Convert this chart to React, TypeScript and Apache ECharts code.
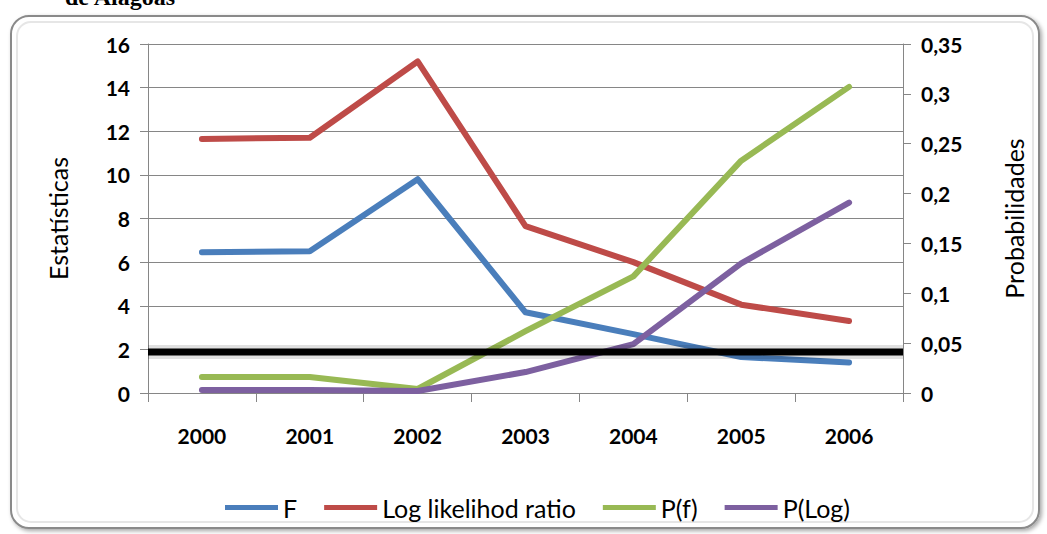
import React, { useEffect, useRef } from "react";
import * as echarts from "echarts";

const years = ["2000", "2001", "2002", "2003", "2004", "2005", "2006"];
const fValues = [6.45, 6.5, 9.8, 3.7, 2.7, 1.65, 1.4];
const logLikelihood = [11.65, 11.7, 15.2, 7.65, 6.0, 4.05, 3.3];
const pF = [0.016, 0.016, 0.004, 0.062, 0.117, 0.233, 0.307];
const pLog = [0.003, 0.003, 0.002, 0.021, 0.049, 0.13, 0.191];
const thresholdLine = 1.88;
const thresholdSpan = [0, 1];
const leftTicks = { min: 0, max: 16, interval: 2 };
const rightTicks = { min: 0, max: 0.35, interval: 0.05 };

const FONT = "Lato, 'Liberation Sans', sans-serif";

export default function App() {
  const ref = useRef<HTMLDivElement>(null);
  useEffect(() => {
    if (!ref.current) return;
    const chart = echarts.init(ref.current, null, { renderer: "svg" });
    const lineSeries = (name: string, data: number[], color: string, yAxisIndex: number) => ({
      name,
      type: "line",
      data,
      yAxisIndex,
      symbol: "none",
      showSymbol: false,
      lineStyle: { color, width: 6, cap: "round", join: "round" },
      itemStyle: { color },
      z: 3,
    });
    const thresholdData = thresholdSpan.map((x) => [x, thresholdLine]);
    chart.setOption({
      animation: false,
      backgroundColor: "#ffffff",
      textStyle: { fontFamily: FONT },
      grid: { left: 148, right: 144, top: 44, bottom: 141, containLabel: false },
      graphic: [
        {
          type: "rect",
          shape: { x: 11, y: 16, width: 1028, height: 512, r: 18 },
          style: {
            fill: "#ffffff",
            stroke: "#8a8a8a",
            lineWidth: 2,
            shadowBlur: 4,
            shadowOffsetX: 2,
            shadowOffsetY: 2,
            shadowColor: "rgba(0,0,0,0.35)",
          },
          z: -10,
        },
        {
          type: "rect",
          shape: { x: 17, y: 22, width: 1016, height: 500, r: 14 },
          style: { fill: "none", stroke: "#e6e6e6", lineWidth: 2 },
          z: -9,
        },
        {
          type: "text",
          x: 65,
          y: 9,
          style: {
            text: "de Alagoas",
            fontFamily: "'Liberation Serif', 'DejaVu Serif', serif",
            fontWeight: "bold",
            fontSize: 24,
            fill: "#000",
            verticalAlign: "bottom",
          },
        },
      ],
      legend: {
        top: 490,
        left: 220,
        itemWidth: 53,
        itemHeight: 5,
        itemGap: 27,
        icon: "rect",
        textStyle: { fontFamily: FONT, fontSize: 25, color: "#000" },
        data: ["F", "Log likelihod ratio", "P(f)", "P(Log)"],
      },
      xAxis: [
        {
          type: "category",
          data: years,
          boundaryGap: true,
          axisLine: { lineStyle: { color: "#868686", width: 1 } },
          axisTick: { show: true, length: 9, lineStyle: { color: "#868686" } },
          axisLabel: { fontFamily: FONT, fontSize: 21, fontWeight: "bold", color: "#000", margin: 32 },
        },
        {
          type: "value",
          min: thresholdSpan[0],
          max: thresholdSpan[1],
          show: false,
        },
      ],
      yAxis: [
        {
          type: "value",
          ...leftTicks,
          name: "Estatísticas",
          nameLocation: "middle",
          nameGap: 78,
          nameTextStyle: { fontFamily: FONT, fontSize: 25, color: "#000" },
          axisLine: { show: true, lineStyle: { color: "#868686" } },
          axisTick: { show: true, length: 8, lineStyle: { color: "#868686" } },
          splitLine: { show: true, lineStyle: { color: "#868686", width: 1 } },
          axisLabel: { fontFamily: FONT, fontSize: 21, fontWeight: "bold", color: "#000", margin: 18 },
        },
        {
          type: "value",
          ...rightTicks,
          position: "right",
          name: "Probabilidades",
          nameLocation: "middle",
          nameGap: 98,
          nameRotate: 90,
          nameTextStyle: { fontFamily: FONT, fontSize: 25, color: "#000" },
          axisLine: { show: true, lineStyle: { color: "#868686" } },
          axisTick: { show: true, length: 8, lineStyle: { color: "#868686" } },
          splitLine: { show: false },
          axisLabel: {
            fontFamily: FONT,
            fontSize: 21,
            fontWeight: "bold",
            color: "#000",
            margin: 18,
            formatter: (v: number) => String(Math.round(v * 100) / 100).replace(".", ","),
          },
        },
      ],
      series: [
        lineSeries("F", fValues, "#4a7ebb", 0),
        lineSeries("Log likelihod ratio", logLikelihood, "#be4b48", 0),
        lineSeries("P(f)", pF, "#98b954", 1),
        lineSeries("P(Log)", pLog, "#7d60a0", 1),
        {
          name: "threshold-shadow",
          type: "line",
          xAxisIndex: 1,
          yAxisIndex: 0,
          data: thresholdData,
          z: 9,
          symbol: "none",
          showSymbol: false,
          silent: true,
          lineStyle: { color: "rgba(0,0,0,0.12)", width: 14, cap: "butt" },
        },
        {
          name: "threshold",
          type: "line",
          xAxisIndex: 1,
          yAxisIndex: 0,
          data: thresholdData,
          z: 10,
          symbol: "none",
          showSymbol: false,
          silent: true,
          lineStyle: { color: "#000", width: 7, cap: "butt" },
        },
      ],
    });
    return () => chart.dispose();
  }, []);
  return (
    <div
      ref={ref}
      style={{ position: "fixed", left: 0, top: 0, width: 1047, height: 534 }}
    />
  );
}
